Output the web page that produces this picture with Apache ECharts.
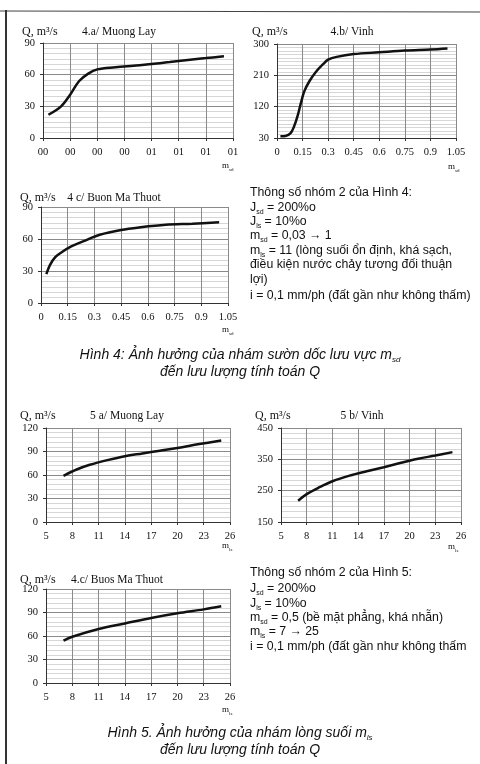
<!DOCTYPE html>
<html><head><meta charset="utf-8">
<script src="https://cdn.jsdelivr.net/npm/echarts@6/dist/echarts.min.js"></script>
<style>html,body{margin:0;padding:0;background:#fff}#c{width:480px;height:764px}</style>
</head><body><div id="c"></div>
<script>
// ---- data ----
const mA = [0.03, 0.1, 0.15, 0.2, 0.25, 0.3, 0.4, 0.5, 0.6, 0.7, 0.8, 0.9, 1.0];
const qA = [22, 30, 41, 54, 61, 65, 67, 68.5, 70, 72, 74, 75.7, 77.4];
const tickLabelsA = ["00","00","00","00","01","01","01","01"];

const mB = [0.02, 0.05, 0.08, 0.1, 0.12, 0.14, 0.16, 0.19, 0.23, 0.27, 0.3, 0.35, 0.45, 0.6, 0.75, 0.9, 1.0];
const qB = [35, 36, 44, 63, 92, 130, 164, 193, 221, 242, 255, 263, 271, 276, 281, 284, 287];

const mC = [0.03, 0.05, 0.08, 0.12, 0.17, 0.24, 0.33, 0.45, 0.56, 0.7, 0.85, 1.0];
const qC = [27, 35.5, 43, 48, 53, 58, 64, 68.5, 71, 73.3, 74.3, 75.6];
const tickLabelsMsd = ["0","0.15","0.3","0.45","0.6","0.75","0.9","1.05"];

const lsD = [7, 8.5, 10, 12, 14, 16, 18, 20, 22.5, 25];
const qD = [59, 67, 73, 79, 84, 87.5, 91, 94.5, 99.5, 104];

const lsE = [7, 8, 9.5, 11, 13, 15, 17, 19, 21, 23, 25];
const qE = [218, 239, 261, 280, 298, 312, 325, 339, 352, 362, 373];

const lsF = [7, 8, 11, 14, 17, 20, 23, 25];
const qF = [54, 59, 69, 76, 83, 89, 94, 98];

const chartTitles = ["4.a/ Muong Lay", "4.b/ Vinh", "4 c/ Buon Ma Thuot", "5 a/ Muong Lay", "5 b/ Vinh", "4.c/ Buos Ma Thuot"];
const yName = "Q, m³/s";

// ---- styles ----
const SERIF = "'Liberation Serif','Times New Roman',serif";
const SANS = "'Liberation Sans',Arial,sans-serif";

const grids = [
  {left: 43, top: 43, width: 190, height: 95},
  {left: 277, top: 44, width: 179, height: 94},
  {left: 41, top: 207, width: 187, height: 96},
  {left: 46, top: 428, width: 184, height: 94},
  {left: 281, top: 428, width: 180, height: 94},
  {left: 46, top: 589, width: 184, height: 94}
];

function xAxis(i, min, max, interval, labels) {
  return {
    type: 'value', gridIndex: i, min: min, max: max, interval: interval,
    axisLine: {show: true, lineStyle: {color: '#333', width: 1}},
    axisTick: {show: true, length: 3, lineStyle: {color: '#333'}},
    axisLabel: {fontFamily: SERIF, fontSize: 10.5, color: '#111', margin: 9,
      formatter: labels ? function (v, idx) { return labels[idx] !== undefined ? labels[idx] : ''; } : null},
    splitLine: {show: true, lineStyle: {color: '#8a8a8a', width: 1}}
  };
}
function yAxis(i, min, max, interval, minorN) {
  return {
    type: 'value', gridIndex: i, min: min, max: max, interval: interval,
    axisLine: {show: true, lineStyle: {color: '#333', width: 1}},
    axisTick: {show: true, length: 3, lineStyle: {color: '#333'}},
    axisLabel: {fontFamily: SERIF, fontSize: 10.5, color: '#111', margin: 8},
    splitLine: {show: true, lineStyle: {color: '#8a8a8a', width: 1}},
    minorTick: {show: false, splitNumber: minorN},
    minorSplitLine: {show: true, lineStyle: {color: '#d6d6d6', width: 1}}
  };
}
function series(i, xs, ys) {
  return {
    type: 'line', xAxisIndex: i, yAxisIndex: i, smooth: 0.35, symbol: 'none',
    data: xs.map((x, k) => [x, ys[k]]),
    lineStyle: {color: '#111', width: 2.5}, animation: false
  };
}

function txt(x, y, text, font, align) {
  return {type: 'text', x: x, y: y, silent: true,
    style: {text: text, font: font, fill: '#111', textAlign: align || 'left', textVerticalAlign: 'middle'}};
}
function rtxt(x, y, text, size, family, italic, align) {
  const st = italic ? 'italic' : 'normal';
  return {type: 'text', x: x, y: y, silent: true,
    style: {text: text, fill: '#111', textAlign: align || 'left', textVerticalAlign: 'middle',
      fontSize: size, fontFamily: family, fontStyle: st,
      rich: {
        n: {fontSize: size, fontFamily: family, fontStyle: st, lineHeight: size + 3},
        s: {fontSize: Math.round(size * 0.55), fontFamily: family, fontStyle: st, verticalAlign: 'bottom', lineHeight: Math.round(size * 0.55) + 1}
      }}};
}

const FS = 12.3;
const CS = 14;
const TF = '11.5px ' + SERIF;
const QF = '12px ' + SERIF;
const graphics = [
  // page frame
  {type: 'line', shape: {x1: 0, y1: 11, x2: 480, y2: 12}, style: {stroke: '#444', lineWidth: 1.2}, silent: true},
  {type: 'line', shape: {x1: 6, y1: 10, x2: 6, y2: 764}, style: {stroke: '#333', lineWidth: 2}, silent: true},
  // chart headers
  txt(22, 32, yName, QF), txt(119, 32, chartTitles[0], TF, 'center'),
  txt(252, 32, yName, QF), txt(352, 32, chartTitles[1], TF, 'center'),
  txt(20, 198, yName, QF), txt(114, 198, chartTitles[2], TF, 'center'),
  txt(20, 416, yName, QF), txt(127, 416, chartTitles[3], TF, 'center'),
  txt(255, 416, yName, QF), txt(362, 416, chartTitles[4], TF, 'center'),
  txt(20, 580, yName, QF), txt(117, 580, chartTitles[5], TF, 'center'),
  // x axis names
  rtxt(222, 166, '{n|m}{s|sd}', 9, SERIF), rtxt(448, 167, '{n|m}{s|sd}', 9, SERIF),
  rtxt(222, 330, '{n|m}{s|sd}', 9, SERIF), rtxt(222, 546, '{n|m}{s|ls}', 9, SERIF),
  rtxt(448, 547, '{n|m}{s|ls}', 9, SERIF), rtxt(222, 710, '{n|m}{s|ls}', 9, SERIF),
  // parameter block 4
  rtxt(250, 193, '{n|Thông số nhóm 2 của Hình 4:}', FS, SANS),
  rtxt(250, 208, '{n|J}{s|sd}{n| = 200%o}', FS, SANS),
  rtxt(250, 222, '{n|J}{s|ls}{n| = 10%o}', FS, SANS),
  rtxt(250, 236, '{n|m}{s|sd}{n| = 0,03 → 1}', FS, SANS),
  rtxt(250, 251, '{n|m}{s|ls}{n| = 11 (lòng suối ổn định, khá sạch,}', FS, SANS),
  rtxt(250, 265, '{n|điều kiện nước chảy tương đối thuận}', FS, SANS),
  rtxt(250, 280, '{n|lợi)}', FS, SANS),
  rtxt(250, 296, '{n|i = 0,1 mm/ph (đất gần như không thấm)}', FS, SANS),
  // caption 4
  rtxt(240, 355, '{n|Hình 4: Ảnh hưởng của nhám sườn dốc lưu vực m}{s|sd}', CS, SANS, true, 'center'),
  rtxt(240, 372, '{n|đến lưu lượng tính toán Q}', CS, SANS, true, 'center'),
  // parameter block 5
  rtxt(250, 573, '{n|Thông số nhóm 2 của Hình 5:}', FS, SANS),
  rtxt(250, 589, '{n|J}{s|sd}{n| = 200%o}', FS, SANS),
  rtxt(250, 604, '{n|J}{s|ls}{n| = 10%o}', FS, SANS),
  rtxt(250, 618, '{n|m}{s|sd}{n| = 0,5 (bề mặt phẳng, khá nhẵn)}', FS, SANS),
  rtxt(250, 632, '{n|m}{s|ls}{n| = 7 → 25}', FS, SANS),
  rtxt(250, 647, '{n|i = 0,1 mm/ph (đất gần như không thấm}', FS, SANS),
  // caption 5
  rtxt(240, 733, '{n|Hình 5. Ảnh hưởng của nhám lòng suối m}{s|ls}', CS, SANS, true, 'center'),
  rtxt(240, 750, '{n|đến lưu lượng tính toán Q}', CS, SANS, true, 'center')
];

const chart = echarts.init(document.getElementById('c'), null, {renderer: 'canvas'});
chart.setOption({
  animation: false,
  backgroundColor: '#fff',
  grid: grids,
  xAxis: [
    xAxis(0, 0, 1.05, 0.15, tickLabelsA),
    xAxis(1, 0, 1.05, 0.15, tickLabelsMsd),
    xAxis(2, 0, 1.05, 0.15, tickLabelsMsd),
    xAxis(3, 5, 26, 3),
    xAxis(4, 5, 26, 3),
    xAxis(5, 5, 26, 3)
  ],
  yAxis: [
    yAxis(0, 0, 90, 30, 6),
    yAxis(1, 30, 300, 90, 9),
    yAxis(2, 0, 90, 30, 6),
    yAxis(3, 0, 120, 30, 5),
    yAxis(4, 150, 450, 100, 6),
    yAxis(5, 0, 120, 30, 5)
  ],
  series: [
    series(0, mA, qA), series(1, mB, qB), series(2, mC, qC),
    series(3, lsD, qD), series(4, lsE, qE), series(5, lsF, qF)
  ],
  graphic: graphics
});
</script></body></html>
